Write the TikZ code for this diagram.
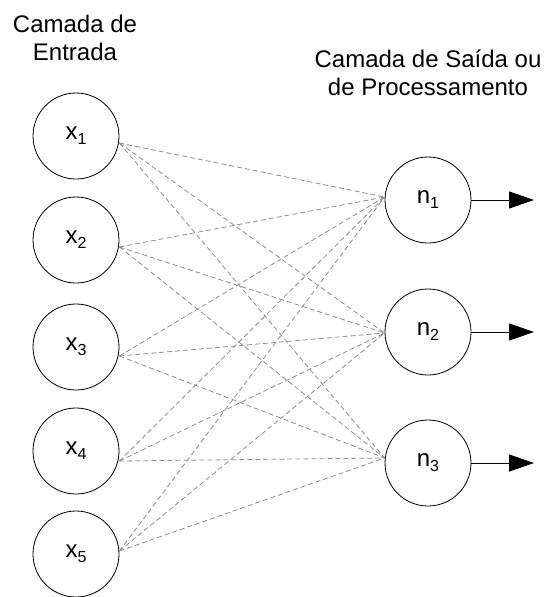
\documentclass[tikz,border=0pt]{standalone}
\usepackage{fontspec}
\setmainfont{Liberation Sans}
\usetikzlibrary{arrows.meta}
\newcommand\mysub[1]{\raisebox{-5pt}{\fontsize{16}{16}\selectfont #1}}
\begin{document}
\begin{tikzpicture}[x=1pt,y=-1pt,
  neuron/.style={circle,draw,line width=0.8pt,minimum size=86pt,inner sep=0pt,font=\fontsize{24}{24}\selectfont},
  link/.style={draw=black!45,dash pattern=on 5pt off 3pt,line width=0.8pt},
  outarrow/.style={-{Triangle[length=25pt,width=17pt]},line width=1pt},
  title/.style={align=center,font=\fontsize{24}{28}\selectfont}]
\useasboundingbox (0,0) rectangle (546,597);
\node[title] (t1) at (75,38) {Camada de\\Entrada};
\node[title] (t2) at (428,73) {Camada de Saída ou\\de Processamento};
\node[neuron] (x1) at (76,136) {x\mysub{1}};
\node[neuron] (x2) at (76,240) {x\mysub{2}};
\node[neuron] (x3) at (76,347) {x\mysub{3}};
\node[neuron] (x4) at (76,451) {x\mysub{4}};
\node[neuron] (x5) at (76,554) {x\mysub{5}};
\node[neuron] (n1) at (428,200) {n\mysub{1}};
\node[neuron] (n2) at (428,332) {n\mysub{2}};
\node[neuron] (n3) at (428,463) {n\mysub{3}};
\foreach \i/\d in {1/-7,2/-7,3/-9,4/-10,5/3}
  \coordinate (x\i o) at ([yshift=\d pt]x\i.east);
\foreach \j/\d in {1/3,2/-1,3/5}
  \coordinate (n\j i) at ([yshift=\d pt]n\j.west);
\foreach \i in {1,...,5}
  \foreach \j in {1,2,3}
    \draw[link] (x\i o) -- (n\j i);
\coordinate (a1) at (534,200);
\coordinate (a2) at (534,332);
\coordinate (a3) at (534,463);
\draw[outarrow] (n1) -- (a1);
\draw[outarrow] (n2) -- (a2);
\draw[outarrow] (n3) -- (a3);
\end{tikzpicture}
\end{document}
